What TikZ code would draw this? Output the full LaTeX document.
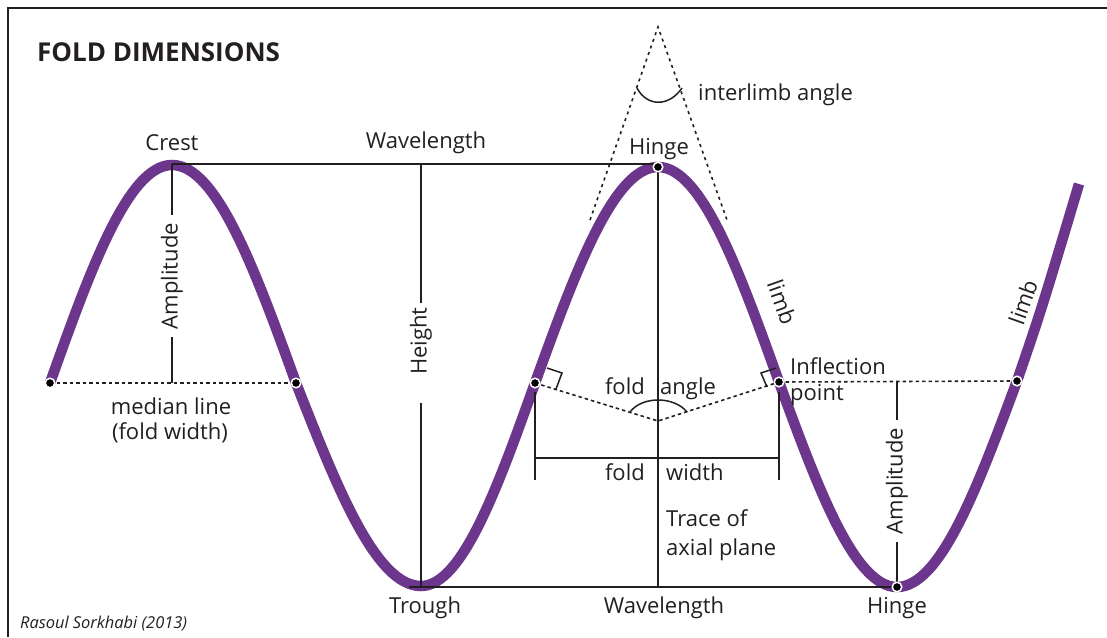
\documentclass[tikz,border=0pt]{standalone}
\usepackage{fontspec}
\setmainfont{Open Sans}
\definecolor{foldpurple}{RGB}{108,54,140}
\definecolor{ink}{RGB}{35,31,32}
\begin{document}
\begin{tikzpicture}[x=1pt,y=-1pt,
  fold/.style={line width=10.5pt, draw=foldpurple},
  dim/.style={line width=1.5pt, draw=ink},
  dotln/.style={line width=1.6pt, draw=ink, dash pattern=on 3.5pt off 3pt},
  conln/.style={line width=1.6pt, draw=ink, dash pattern=on 3pt off 4pt},
  ipt/.style={circle, fill=black, draw=white, line width=1.5pt, inner sep=0pt, minimum size=9.5pt},
  lbl/.style={font=\fontsize{22}{26}\selectfont, text=ink, inner sep=0pt},
  vlbl/.style={lbl, rotate=90, fill=white, inner xsep=8pt, inner ysep=2pt},
]
\useasboundingbox (0,0) rectangle (1107,637);
% frame
\coordinate (fr1) at (1107,8);
\coordinate (fr2) at (8,8);
\coordinate (fr3) at (8,637);
\draw[line width=2.5pt, ink] (fr1) -- (fr2) -- (fr3);

% key points
\coordinate (m1) at (50,383);
\coordinate (crest) at (172,165);
\coordinate (m2) at (296,383);
\coordinate (trough) at (421,586);
\coordinate (m3) at (535,383);
\coordinate (htop) at (658,167);
\coordinate (m4) at (779,382);
\coordinate (hbot) at (897,587);
\coordinate (m5) at (1017,381);
\coordinate (wend) at (1079,184);
\coordinate (wctl) at (1041,311);

% the fold
\draw[fold] (m1) sin (crest) cos (m2) sin (trough) cos (m3) sin (htop) cos (m4) sin (hbot) cos (m5) .. controls (wctl) .. (wend);

% title and credit
\node[font=\fontsize{26}{31}\selectfont\bfseries, text=ink, inner sep=0pt, anchor=base west] (title) at (37,61) {FOLD DIMENSIONS};
\node[font=\fontsize{16.4}{19}\selectfont\itshape, text=ink, inner sep=0pt, anchor=base west] (credit) at (20,628) {Rasoul Sorkhabi (2013)};

% wavelength lines
\coordinate (topR) at (658,164);
\coordinate (topL) at (172,164);
\draw[dim] (topL) -- (topR);
\coordinate (botL) at (409,587);
\draw[dim] (botL) -- (hbot);

% height
\coordinate (hgt0) at (421,164);
\coordinate (hgt1) at (421,303);
\coordinate (hgt2) at (421,403);
\draw[dim] (hgt0) -- (hgt1);
\draw[dim] (hgt2) -- (trough);
\node[lbl, rotate=90] (height) at (421,341) {Height};

% left amplitude
\coordinate (medL) at (172,383);
\draw[dim] (topL) -- (medL);
\node[vlbl] (ampL) at (172,276) {Amplitude};

% right amplitude
\coordinate (medR) at (897,381);
\draw[dim] (medR) -- (hbot);
\node[vlbl, inner xsep=8pt] (ampR) at (897,481) {Amplitude};

% axial plane trace
\coordinate (axb) at (658,587);
\draw[dim] (htop) -- (axb);

% median lines
\draw[dotln] (m1) -- (m2);
\draw[dotln] (m4) -- (m5);

% fold angle
\coordinate (fa) at (658,421);
\draw[dotln] (m3) -- (fa) -- (m4);
\coordinate (fa1) at (630,412);
\coordinate (fa2) at (687,412);
\draw[dim] (fa1) .. controls (642,396) and (674,396) .. (fa2);
% right-angle marks
\coordinate (ra1) at (547,368);
\coordinate (ra2) at (562,373);
\coordinate (ra3) at (556,389);
\draw[dim] (ra1) -- (ra2) -- (ra3);
\coordinate (rb1) at (776,368);
\coordinate (rb2) at (761,373);
\coordinate (rb3) at (767,387);
\draw[dim] (rb1) -- (rb2) -- (rb3);

% fold width
\coordinate (fw1t) at (535,392);
\coordinate (fw1b) at (535,480);
\coordinate (fw2t) at (779,392);
\coordinate (fw2b) at (779,480);
\coordinate (fwl) at (535,458);
\coordinate (fwr) at (779,458);
\draw[dim] (fw1t) -- (fw1b);
\draw[dim] (fw2t) -- (fw2b);
\draw[dim] (fwl) -- (fwr);

% interlimb angle
\coordinate (apex) at (658,27);
\coordinate (cl) at (590,220);
\coordinate (cr) at (727,220);
\draw[conln] (cl) -- (apex) -- (cr);
\coordinate (ia1) at (637,88);
\coordinate (ia2) at (682,88);
\draw[dim] (ia1) .. controls (647,107) and (669,107) .. (ia2);

% points
\node[ipt] (d1) at (m1) {};
\node[ipt] (d2) at (m2) {};
\node[ipt] (d3) at (m3) {};
\node[ipt] (d4) at (m4) {};
\node[ipt] (d5) at (m5) {};
\node[ipt] (d6) at (htop) {};
\node[ipt] (d7) at (hbot) {};

% labels
\node[lbl, anchor=base] (crestlbl) at (172,150) {Crest};
\node[lbl, anchor=base] (wl1) at (426,148) {Wavelength};
\node[lbl, anchor=base] (hinge1) at (659,154) {Hinge};
\node[lbl, anchor=base west] (interlimb) at (698,100) {interlimb angle};
\node[lbl, anchor=base] (med1) at (171,414) {median line};
\node[lbl, anchor=base] (med2) at (170,439) {(fold width)};
\node[lbl, anchor=base east] (fold1) at (645,394) {fold};
\node[lbl, anchor=base west] (angle1) at (660,394) {angle};
\node[lbl, anchor=base east] (fold2) at (645,480) {fold};
\node[lbl, anchor=base west] (width2) at (666,480) {width};
\node[lbl, anchor=base west] (infl1) at (790,374) {Inflection};
\node[lbl, anchor=base west] (infl2) at (790,400) {point};
\node[lbl, anchor=base west] (trace1) at (666,526) {Trace of};
\node[lbl, anchor=base west] (trace2) at (666,555) {axial plane};
\node[lbl, anchor=base] (troughlbl) at (425,613) {Trough};
\node[lbl, anchor=base] (wl2) at (664,613) {Wavelength};
\node[lbl, anchor=base] (hinge2) at (897,613) {Hinge};
\node[lbl, rotate=-70.5] (limb1) at (782,302) {limb};
\node[lbl, rotate=70.5] (limb2) at (1023,302) {limb};
\end{tikzpicture}
\end{document}
